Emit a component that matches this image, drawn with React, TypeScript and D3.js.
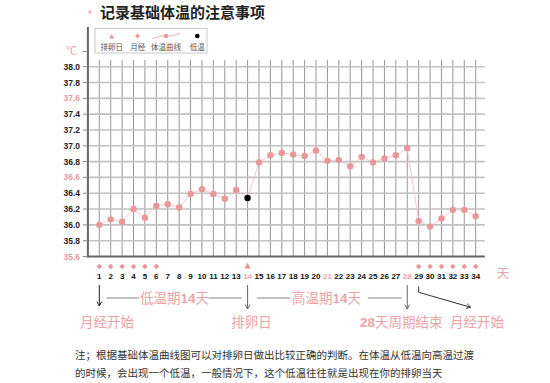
import React from "react";
import * as d3 from "d3";

const days = d3.range(1, 35);
const temps = [36.0, 36.07, 36.04, 36.2, 36.09, 36.24, 36.26, 36.22, 36.39, 36.45, 36.39, 36.33, 36.44, 36.34,
  36.79, 36.88, 36.91, 36.89, 36.87, 36.94, 36.81, 36.82, 36.74, 36.86, 36.79, 36.84, 36.88, 36.97,
  36.05, 35.98, 36.08, 36.19, 36.19, 36.11];
const lowDay = 14;
const periodDays = [1, 2, 3, 4, 5, 6, 29, 30, 31, 32, 33, 34];
const ovulationDay = 14;
const pinkDayLabels = [14, 21, 28];
const yTicks = [35.6, 35.8, 36.0, 36.2, 36.4, 36.6, 36.8, 37.0, 37.2, 37.4, 37.6, 37.8, 38.0];
const pinkYTicks = [35.6, 36.6, 37.6];
const legendItems = ["排卵日", "月经", "体温曲线", "低温"];
const title = "记录基础体温的注意事项";
const note1 = "注；根据基础体温曲线图可以对排卵日做出比较正确的判断。在体温从低温向高温过渡";
const note2 = "的时候，会出现一个低温，一般情况下，这个低温往往就是出现在你的排卵当天";

const PINK = "#e9979b";
const PINK_TEXT = "#eba3a6";
const CJK = "'Noto Sans CJK SC', 'Noto Sans', sans-serif";
const NUM = "'Liberation Sans', Arial, sans-serif";

export default function App() {
  const x = d3.scaleLinear().domain([0, 35]).range([87.9, 487.1]);
  const y = d3.scaleLinear().domain([35.6, 38.0]).range([256.5, 66.7]);
  const line = d3.line<number>().x((_, i) => x(days[i])).y((d) => y(d));
  const gridRight = x(34.8);
  const diamond = (cx: number, cy: number, r: number) =>
    `M${cx},${cy - r}L${cx + r},${cy}L${cx},${cy + r}L${cx - r},${cy}Z`;
  const tri = (cx: number, cy: number, r: number) =>
    `M${cx},${cy - r}L${cx + r},${cy + r * 0.8}L${cx - r},${cy + r * 0.8}Z`;
  const arrowHead = (tx: number, ty: number, angle: number, color: string) => {
    const len = 5;
    const a1 = angle + Math.PI - 0.5;
    const a2 = angle + Math.PI + 0.5;
    return (
      <path
        d={`M${tx + len * Math.cos(a1)},${ty + len * Math.sin(a1)}L${tx},${ty}L${tx + len * Math.cos(a2)},${ty + len * Math.sin(a2)}`}
        fill="none" stroke={color} strokeWidth={1}
      />
    );
  };
  const d28 = x(28), d29 = x(29), d1 = x(1), d14 = x(14);
  const endPt = [470.7, 307.3];
  const bendPt = [d29, 292.3];
  const ang = Math.atan2(endPt[1] - bendPt[1], endPt[0] - bendPt[0]);

  return (
    <svg width={550} height={383} style={{ position: "absolute", left: 0, top: 0, background: "#fff" }}>
      {/* title */}
      <circle cx={90} cy={12} r={2} fill="#f2c4c6" />
      <text x={100} y={17.5} fontFamily={CJK} fontWeight="bold" fontSize={15} fill="#222">{title}</text>

      {/* vertical grid */}
      {days.map((d) => (
        <line key={"v" + d} x1={x(d)} x2={x(d)} y1={60} y2={256.5} stroke="#8a8a8a" strokeWidth={0.9} />
      ))}
      {/* horizontal grid */}
      {yTicks.slice(1).map((t) => (
        <line key={"h" + t} x1={x(0)} x2={gridRight} y1={y(t)} y2={y(t)} stroke="#c2c2c2" strokeWidth={1.6} />
      ))}
      {/* axes */}
      <line x1={x(0)} x2={x(0)} y1={27} y2={257.5} stroke="#666" strokeWidth={2} />
      <line x1={x(0) - 1} x2={gridRight} y1={256.5} y2={256.5} stroke="#666" strokeWidth={2} />
      {yTicks.map((t) => (
        <g key={"yt" + t}>
          <line x1={x(0) - 5} x2={x(0)} y1={y(t)} y2={y(t)} stroke="#888" strokeWidth={1} />
          <text x={80} y={y(t) + 3} textAnchor="end" fontFamily={NUM} fontWeight="bold" fontSize={8.5}
            fill={pinkYTicks.includes(t) ? "#e79a9e" : "#222"}>{t.toFixed(1)}</text>
        </g>
      ))}
      <line x1={x(0) - 5} x2={x(0)} y1={51.5} y2={51.5} stroke="#888" strokeWidth={1} />
      <text x={66} y={55} fontFamily={CJK} fontSize={11} fill={PINK_TEXT}>℃</text>

      {/* legend */}
      <rect x={95} y={28.5} width={112} height={24.5} fill="#fff" stroke="#bbb" strokeWidth={0.8} />
      <path d={tri(111.7, 36.5, 2.6)} fill={PINK} />
      <path d={diamond(137.5, 36, 2.4)} fill={PINK} />
      <path d="M152,38.5 C158,37 162,35.5 166,36 S175,35 180,33.5" fill="none" stroke={PINK} strokeWidth={0.8} />
      <circle cx={166} cy={36} r={2.2} fill={PINK} />
      <circle cx={197.3} cy={36} r={2.3} fill="#000" />
      {[111.7, 137.7, 166, 197.3].map((cx, i) => (
        <text key={"lg" + i} x={cx} y={49.5} textAnchor="middle" fontFamily={CJK} fontSize={7.5} fill="#555">{legendItems[i]}</text>
      ))}

      {/* temperature line */}
      <path d={line(temps) || ""} fill="none" stroke="#f3c3c5" strokeWidth={0.9} />
      {temps.map((t, i) => (
        <circle key={"p" + i} cx={x(days[i])} cy={y(t)} r={3.2}
          fill={days[i] === lowDay ? "#000" : PINK} />
      ))}

      {/* markers below axis */}
      {periodDays.map((d) => (
        <path key={"pd" + d} d={diamond(x(d), 266.5, 2.8)} fill={PINK} />
      ))}
      <path d={tri(x(ovulationDay), 266, 3.2)} fill={PINK} />

      {/* day labels */}
      {days.map((d) => (
        <text key={"dl" + d} x={x(d)} y={279} textAnchor="middle" fontFamily={NUM} fontWeight="bold" fontSize={8}
          fill={pinkDayLabels.includes(d) ? "#eba3a6" : "#111"}>{d}</text>
      ))}
      <text x={503} y={278} textAnchor="middle" fontFamily={CJK} fontSize={12.5} fill={PINK_TEXT}>天</text>

      {/* arrows */}
      <line x1={d1} x2={d1} y1={285} y2={306} stroke="#222" strokeWidth={1} />
      {arrowHead(d1, 306, Math.PI / 2, "#222")}
      <line x1={d14} x2={d14} y1={285} y2={309} stroke="#666" strokeWidth={1} />
      {arrowHead(d14, 309, Math.PI / 2, "#666")}
      <line x1={d28} x2={d28} y1={285} y2={309} stroke="#666" strokeWidth={1} />
      {arrowHead(d28, 309, Math.PI / 2, "#666")}
      <path d={`M${d29},286.5L${bendPt[0]},${bendPt[1]}L${endPt[0]},${endPt[1]}`} fill="none" stroke="#333" strokeWidth={1} />
      {arrowHead(endPt[0], endPt[1], ang, "#333")}

      {/* period labels */}
      <line x1={106.7} x2={139} y1={298} y2={298} stroke="#666" strokeWidth={0.8} />
      <text x={140} y={303} fontFamily={CJK} fontSize={13.5} fill={PINK_TEXT}>低温期<tspan fontFamily={NUM} fontWeight="bold">14</tspan>天</text>
      <line x1={208.5} x2={241.7} y1={298} y2={298} stroke="#666" strokeWidth={0.8} />
      <line x1={256.7} x2={290} y1={298} y2={298} stroke="#666" strokeWidth={0.8} />
      <text x={292} y={303} fontFamily={CJK} fontSize={13.5} fill={PINK_TEXT}>高温期<tspan fontFamily={NUM} fontWeight="bold">14</tspan>天</text>
      <line x1={368} x2={401.7} y1={298} y2={298} stroke="#666" strokeWidth={0.8} />

      <text x={80} y={327} fontFamily={CJK} fontSize={13.5} fill={PINK_TEXT}>月经开始</text>
      <text x={251.5} y={327} textAnchor="middle" fontFamily={CJK} fontSize={13.5} fill={PINK_TEXT}>排卵日</text>
      <text x={360} y={327} fontFamily={CJK} fontSize={13.5} fill={PINK_TEXT}><tspan fontFamily={NUM} fontWeight="bold">28</tspan>天周期结束</text>
      <text x={450} y={327} fontFamily={CJK} fontSize={13.5} fill={PINK_TEXT}>月经开始</text>

      {/* note */}
      <text x={75} y={359} fontFamily={CJK} fontSize={10.5} fill="#333">{note1}</text>
      <text x={75} y={376.5} fontFamily={CJK} fontSize={10.5} fill="#333">{note2}</text>
    </svg>
  );
}
